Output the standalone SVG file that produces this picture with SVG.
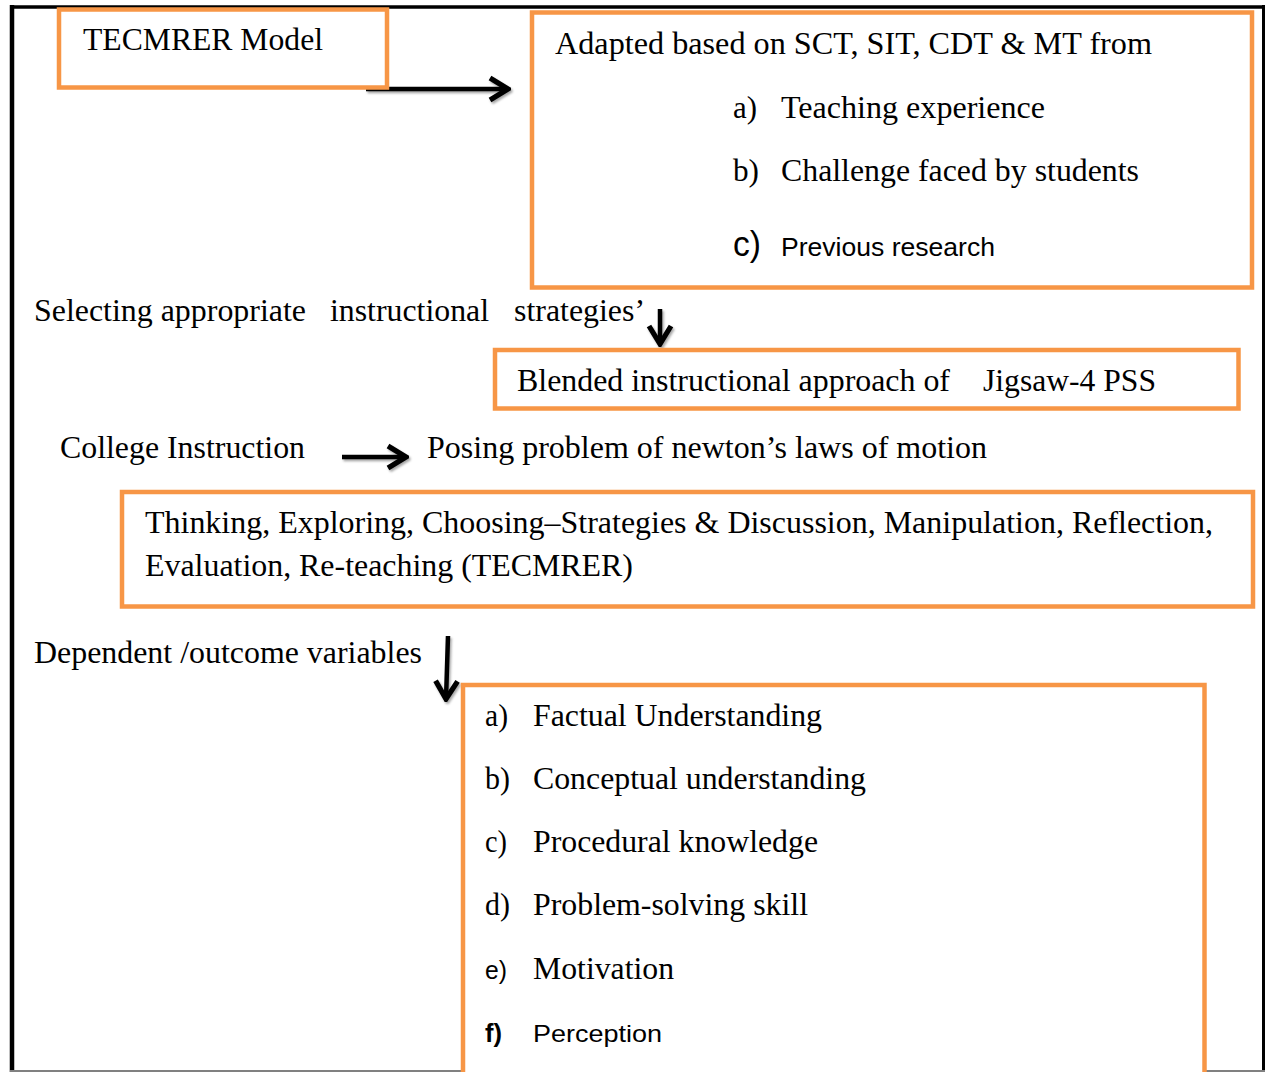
<svg xmlns="http://www.w3.org/2000/svg" width="1265" height="1072" viewBox="0 0 1265 1072">
  <defs>
    <style>
      .box { fill: #ffffff; stroke: #F79646; stroke-width: 4.5; }
      .frame { stroke: #000000; fill: none; }
      .serif { font-family: "Liberation Serif", "Times New Roman", serif; font-size: 31.5px; fill: #000000; }
      .sans { font-family: "Liberation Sans", Arial, sans-serif; fill: #000000; }
      .conn { stroke: #000000; stroke-width: 4.5; fill: none; filter: url(#shade); }
    </style>
    <filter id="shade" filterUnits="userSpaceOnUse" x="0" y="0" width="1265" height="1072">
      <feDropShadow dx="1.5" dy="2" stdDeviation="1.2" flood-color="#000000" flood-opacity="0.35"/>
    </filter>
    <marker id="chevron" viewBox="0 0 24 28" refX="21" refY="14" markerWidth="24" markerHeight="28" markerUnits="userSpaceOnUse" orient="auto">
      <path d="M3,3 L21,14 L3,25" fill="none" stroke="#000000" stroke-width="5.2" stroke-linejoin="miter"/>
    </marker>
  </defs>

  <rect width="1265" height="1072" fill="#ffffff"/>

  <!-- page frame -->
  <g id="frame">
    <line class="frame" x1="12" y1="5" x2="12" y2="1072" stroke-width="4.5"/>
    <line class="frame" x1="10" y1="7" x2="1265" y2="7" stroke-width="3.5"/>
    <line class="frame" x1="1263.5" y1="5" x2="1263.5" y2="1072" stroke-width="3"/>
    <line x1="10" y1="1071" x2="1265" y2="1071" stroke="#808080" stroke-width="2"/>
  </g>

  <!-- connectors -->
  <g id="connectors">
    <line class="conn" x1="366" y1="89" x2="508" y2="89" marker-end="url(#chevron)"/>
    <line class="conn" x1="660" y1="309" x2="660" y2="344" marker-end="url(#chevron)"/>
    <line class="conn" x1="342" y1="457" x2="406" y2="457" marker-end="url(#chevron)"/>
    <line class="conn" x1="448" y1="636" x2="446" y2="699" marker-end="url(#chevron)"/>
  </g>

  <!-- model title -->
  <g id="node-model">
    <rect class="box" x="59" y="9.5" width="328" height="78"/>
    <text class="serif" x="83" y="50" textLength="240" lengthAdjust="spacingAndGlyphs">TECMRER Model</text>
  </g>

  <!-- theoretical basis -->
  <g id="node-basis">
    <rect class="box" x="532" y="12.5" width="720" height="275"/>
    <text class="serif" x="555" y="54" textLength="597" lengthAdjust="spacingAndGlyphs">Adapted based on SCT, SIT, CDT &amp; MT from</text>
    <text class="serif" x="733" y="118" textLength="24" lengthAdjust="spacingAndGlyphs">a)</text>
    <text class="serif" x="781" y="118" textLength="264" lengthAdjust="spacingAndGlyphs">Teaching experience</text>
    <text class="serif" x="733" y="181" textLength="26" lengthAdjust="spacingAndGlyphs">b)</text>
    <text class="serif" x="781" y="181" textLength="358" lengthAdjust="spacingAndGlyphs">Challenge faced by students</text>
    <text class="sans" x="733" y="256" font-size="35" textLength="28" lengthAdjust="spacingAndGlyphs">c)</text>
    <text class="sans" x="781" y="256" font-size="26" textLength="214" lengthAdjust="spacingAndGlyphs">Previous research</text>
  </g>

  <!-- strategy selection -->
  <g id="node-selecting">
    <text class="serif" x="34" y="321" textLength="272" lengthAdjust="spacingAndGlyphs">Selecting appropriate</text>
    <text class="serif" x="330" y="321" textLength="159" lengthAdjust="spacingAndGlyphs">instructional</text>
    <text class="serif" x="514" y="321" textLength="131" lengthAdjust="spacingAndGlyphs">strategies’</text>
  </g>

  <!-- blended approach -->
  <g id="node-blended">
    <rect class="box" x="495" y="350" width="743.5" height="58.5"/>
    <text class="serif" x="517" y="391" textLength="433" lengthAdjust="spacingAndGlyphs">Blended instructional approach of</text>
    <text class="serif" x="983" y="391" textLength="173" lengthAdjust="spacingAndGlyphs">Jigsaw-4 PSS</text>
  </g>

  <!-- college instruction -->
  <g id="node-college">
    <text class="serif" x="60" y="458" textLength="245" lengthAdjust="spacingAndGlyphs">College Instruction</text>
  </g>

  <g id="node-posing">
    <text class="serif" x="427" y="458" textLength="560" lengthAdjust="spacingAndGlyphs">Posing problem of newton’s laws of motion</text>
  </g>

  <!-- TECMRER phases -->
  <g id="node-phases">
    <rect class="box" x="122" y="492" width="1131" height="114.5"/>
    <text class="serif" x="145" y="533" textLength="1068" lengthAdjust="spacingAndGlyphs">Thinking, Exploring, Choosing–Strategies &amp; Discussion, Manipulation, Reflection,</text>
    <text class="serif" x="145" y="576" textLength="488" lengthAdjust="spacingAndGlyphs">Evaluation, Re-teaching (TECMRER)</text>
  </g>

  <!-- outcomes -->
  <g id="node-dependent">
    <text class="serif" x="34" y="663" textLength="388" lengthAdjust="spacingAndGlyphs">Dependent /outcome variables</text>
  </g>

  <g id="node-outcomes">
    <rect class="box" x="463" y="685" width="741.5" height="390"/>
    <text class="serif" x="485" y="726" textLength="23" lengthAdjust="spacingAndGlyphs">a)</text>
    <text class="serif" x="533" y="726" textLength="289" lengthAdjust="spacingAndGlyphs">Factual Understanding</text>
    <text class="serif" x="485" y="789" textLength="25" lengthAdjust="spacingAndGlyphs">b)</text>
    <text class="serif" x="533" y="789" textLength="333" lengthAdjust="spacingAndGlyphs">Conceptual understanding</text>
    <text class="serif" x="485" y="852" textLength="22" lengthAdjust="spacingAndGlyphs">c)</text>
    <text class="serif" x="533" y="852" textLength="285" lengthAdjust="spacingAndGlyphs">Procedural knowledge</text>
    <text class="serif" x="485" y="915" textLength="25" lengthAdjust="spacingAndGlyphs">d)</text>
    <text class="serif" x="533" y="915" textLength="275" lengthAdjust="spacingAndGlyphs">Problem-solving skill</text>
    <text class="sans" x="485" y="979" font-size="25" textLength="22" lengthAdjust="spacingAndGlyphs">e)</text>
    <text class="serif" x="533" y="979" textLength="141" lengthAdjust="spacingAndGlyphs">Motivation</text>
    <text class="sans" x="485" y="1042" font-size="25" font-weight="bold" textLength="17" lengthAdjust="spacingAndGlyphs">f)</text>
    <text class="sans" x="533" y="1042" font-size="24" textLength="129" lengthAdjust="spacingAndGlyphs">Perception</text>
  </g>
</svg>
